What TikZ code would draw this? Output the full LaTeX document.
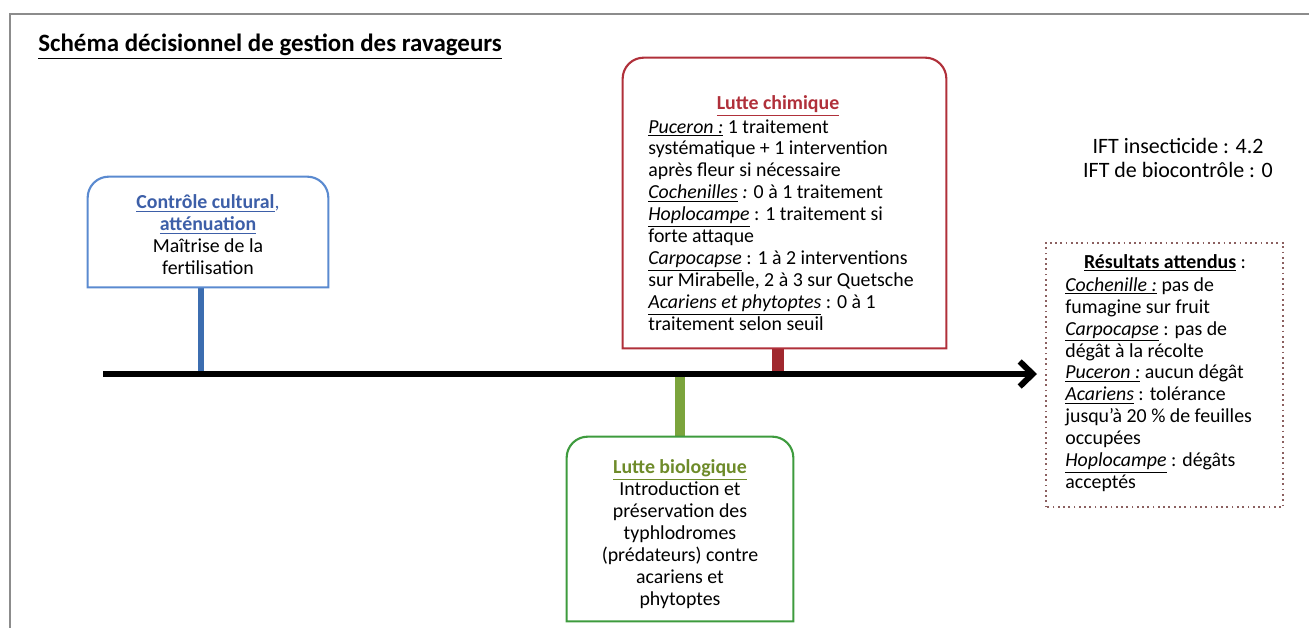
\documentclass[tikz,border=0pt]{standalone}
\usepackage{fontspec}
\setmainfont{Carlito}
\usetikzlibrary{arrows.meta,fit}
\definecolor{frameGray}{HTML}{8C8C8C}
\definecolor{blueTitle}{HTML}{3D5FA8}
\definecolor{blueBorder}{HTML}{5A8AD0}
\definecolor{blueStem}{HTML}{3C6DB0}
\definecolor{redMain}{HTML}{B0303A}
\definecolor{redStem}{HTML}{A0282E}
\definecolor{greenBorder}{HTML}{3E9B3E}
\definecolor{greenTitle}{HTML}{6E8B2A}
\definecolor{greenStem}{HTML}{7BA43C}
\definecolor{dotBorder}{HTML}{8B6060}
\tikzset{
  boxarea/.style={inner sep=0pt, draw=none},
  txt/.style={inner sep=0pt, font=\fontsize{11.3}{12.5}\selectfont},
  stem/.style={line width=#1},
}
\newcommand{\topround}[3]{% node, color, radius
  \draw[#2, line width=1.2pt] (#1.south west) -- ([yshift=-#3]#1.north west) arc(180:90:#3)
    -- ([xshift=-#3]#1.north east) arc(90:0:#3) -- (#1.south east) -- cycle;}
\begin{document}
\begin{tikzpicture}[x=0.02cm,y=-0.02cm]
\useasboundingbox (0,0) rectangle (1309,628);
% partial frame
\draw[frameGray, line width=1.5pt] (10,628) -- (10,14) -- (1309,14);
% title
\node[inner sep=0pt, anchor=base west, font=\fontsize{14.2}{17}\selectfont\bfseries] (title) at (38,52) {\underline{Schéma décisionnel de gestion des ravageurs}};

% axis
\coordinate (axL) at (103,374);
\coordinate (axR) at (1037,374);
\coordinate (bS) at (201,374);
\coordinate (rS) at (778,374);
\coordinate (gS) at (680,374);

% boxes
\node[boxarea, fit={(88,177)(328,287)}] (blue) {};
\node[boxarea, fit={(623,58)(946,348)}] (red) {};
\node[boxarea, fit={(567,437)(793,621)}] (green) {};
\node[boxarea, fit={(1046,243)(1283,507)}] (res) {};

% stems
\draw[blueStem, stem=3.2pt] (blue.south -| bS) -- (bS);
\draw[redStem, stem=7pt] (red.south -| rS) -- (rS);
\draw[greenStem, stem=5.5pt] (green.north -| gS) -- (gS);

\topround{blue}{blueBorder}{12pt}
\topround{red}{redMain}{12pt}
\topround{green}{greenBorder}{12pt}
\draw[dotBorder, line width=1pt, dotted] (res.south west) rectangle (res.north east);

\draw[line width=3.4pt, -{Straight Barb[length=2.6mm 0, width=5mm 0]}] (axL) -- (axR);

% blue text
\node[txt, align=center] (blueT) at (208,235) {{\color{blueTitle}\textbf{\underline{Contrôle cultural}},}\\
{\color{blueTitle}\textbf{\underline{atténuation}}}\\ Maîtrise de la\\ fertilisation};

% red text
\node[txt, anchor=center] (redTitle) at (778,106) {\color{redMain}\textbf{\underline{Lutte chimique}}};
\node[txt, align=left, anchor=north west] (redT) at (648,119) {\underline{\textit{Puceron :}} 1 traitement\\
systématique + 1 intervention\\
après fleur si nécessaire\\
\underline{\textit{Cochenilles}}\textit{ :} 0 à 1 traitement\\
\underline{\textit{Hoplocampe}} : 1 traitement si\\
forte attaque\\
\underline{\textit{Carpocapse}} : 1 à 2 interventions\\
sur Mirabelle, 2 à 3 sur Quetsche\\
\underline{\textit{Acariens et phytoptes}} : 0 à 1\\
traitement selon seuil};

% green text
\node[txt, align=center] (greenT) at (680,534) {{\color{greenTitle}\textbf{\underline{Lutte biologique}}}\\
Introduction et\\ préservation des\\ typhlodromes\\ (prédateurs) contre\\ acariens et\\ phytoptes};

% IFT
\node[inner sep=0pt, align=center, font=\fontsize{12.5}{13.6}\selectfont] (ift) at (1178,158) {IFT insecticide : 4.2\\ IFT de biocontrôle : 0};

% results text
\node[txt, anchor=center] (resTitle) at (1165,263) {\textbf{\underline{Résultats attendus}} :};
\node[txt, align=left, anchor=north west] (resT) at (1065,277) {\underline{\textit{Cochenille :}} pas de\\
fumagine sur fruit\\
\underline{\textit{Carpocapse}} : pas de\\
dégât à la récolte\\
\underline{\textit{Puceron :}} aucun dégât\\
\underline{\textit{Acariens}} : tolérance\\
jusqu’à 20 \% de feuilles\\
occupées\\
\underline{\textit{Hoplocampe}} : dégâts\\
acceptés};
\end{tikzpicture}
\end{document}
